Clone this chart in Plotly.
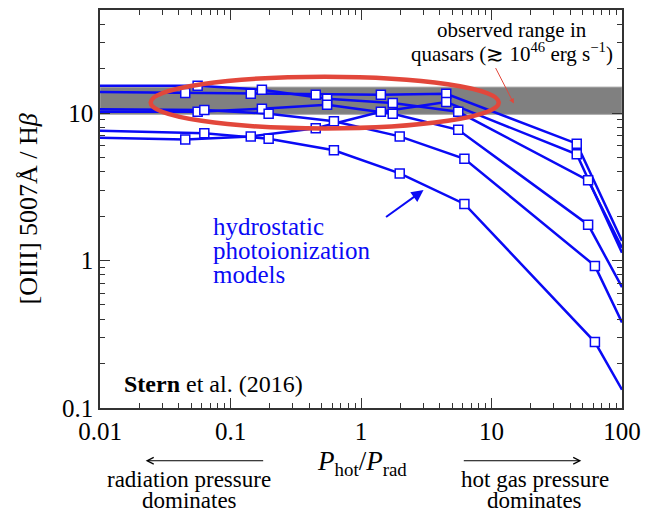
import plotly.graph_objects as go

# ---- data ----
# P_hot/P_rad grid for the three model families (left/right ends are the axis edges)
x_a = [0.01, 0.045, 0.143, 0.45, 1.42, 4.5, 45, 100]
x_b = [0.01, 0.056, 0.174, 0.55, 1.75, 5.56, 55, 100]
x_c = [0.01, 0.063, 0.196, 0.62, 1.98, 6.2, 62, 100]

# [OIII]/Hbeta for each model track
y_a1 = [13.9, 13.7, 13.5, 13.3, 13.3, 13.5, 6.2, 1.36]
y_a2 = [6.8, 6.63, 6.95, 7.9, 10.2, 11.9, 5.25, 1.13]
y_b1 = [15.3, 15.3, 14.4, 12.5, 11.7, 10.2, 3.5, 1.22]
y_b2 = [10.2, 10.2, 10.7, 11.4, 9.9, 7.7, 1.75, 0.66]
y_c1 = [10.6, 10.5, 9.9, 8.8, 6.95, 4.9, 0.92, 0.38]
y_c2 = [7.6, 7.3, 6.7, 5.6, 3.9, 2.42, 0.28, 0.133]

# observed range in luminous quasars
obs_x = [0.01, 100]
obs_low = 9.8
obs_high = 15.0

x_tickvals = [0.01, 0.1, 1, 10, 100]
x_ticktext = ["0.01", "0.1", "1", "10", "100"]
y_tickvals = [0.1, 1, 10]
y_ticktext = ["0.1", "1", "10"]

tracks = [(x_a, y_a1), (x_a, y_a2), (x_b, y_b1), (x_b, y_b2), (x_c, y_c1), (x_c, y_c2)]

BLUE = "#0a0af5"
SERIF = "Liberation Serif"

fig = go.Figure()

# gray band of the observed range
fig.add_trace(go.Scatter(
    x=[obs_x[0], obs_x[1], obs_x[1], obs_x[0], obs_x[0]],
    y=[obs_low, obs_low, obs_high, obs_high, obs_low],
    mode="lines", fill="toself", fillcolor="#808080",
    line=dict(color="#a8a8a8", width=1), hoverinfo="skip", showlegend=False))

for xs, ys in tracks:
    fig.add_trace(go.Scatter(x=xs, y=ys, mode="lines",
                             line=dict(color=BLUE, width=2.5), showlegend=False))
for xs, ys in tracks:
    fig.add_trace(go.Scatter(x=xs[1:-1], y=ys[1:-1], mode="markers",
                             marker=dict(symbol="square", size=9, color="white",
                                         line=dict(color=BLUE, width=1.5)),
                             showlegend=False))

minor_x = [m * 10 ** k for k in range(-2, 2) for m in range(2, 10)]
minor_y = [m * 10 ** k for k in range(-1, 2) for m in range(2, 10)]

axis_common = dict(showgrid=False, zeroline=False, showline=True, linecolor="#333333",
                   linewidth=1.5, mirror="allticks", ticks="inside", ticklen=10,
                   tickcolor="#333333", tickwidth=1.2,
                   tickfont=dict(family=SERIF, size=25, color="black"))

fig.update_xaxes(type="log", range=[-2, 2], tickvals=x_tickvals, ticktext=x_ticktext,
                 minor=dict(tickvals=minor_x, ticks="inside", ticklen=5,
                            tickcolor="#333333", tickwidth=1),
                 **axis_common)
fig.update_yaxes(type="log", range=[-1, 1.699], tickvals=y_tickvals, ticktext=y_ticktext,
                 minor=dict(tickvals=minor_y, ticks="inside", ticklen=5,
                            tickcolor="#333333", tickwidth=1),
                 **axis_common)

# red ellipse highlighting the overlap
fig.add_shape(type="circle", xref="paper", yref="paper",
              x0=0.097, x1=0.764, y0=0.7025, y1=0.8325,
              line=dict(color="#e2473b", width=4.5), layer="above")


def label(x, y, text, size, color="black", xanchor="center", **kw):
    return dict(xref="paper", yref="paper", x=x, y=y, showarrow=False, text=text,
                font=dict(family=SERIF, size=size, color=color),
                xanchor=xanchor, yanchor="middle", **kw)


ann = [
    label(0.789, 0.95, "observed range in", 21),
    label(0.789, 0.893, "quasars (≳ 10<sup>46</sup> erg s<sup>−1</sup>)", 21),
    dict(xref="paper", yref="paper", x=0.7928, y=0.765, text="", showarrow=True,
         ax=-19, ay=-37, arrowcolor="#e2473b", arrowwidth=1, arrowhead=2, arrowsize=1),
    label(0.213, 0.455, "hydrostatic", 25, BLUE, "left"),
    label(0.213, 0.395, "photoionization", 25, BLUE, "left"),
    label(0.213, 0.335, "models", 25, BLUE, "left"),
    dict(xref="paper", yref="paper", x=0.6198, y=0.5475, text="", showarrow=True,
         ax=-39, ay=28, arrowcolor=BLUE, arrowwidth=2, arrowhead=2, arrowsize=1.2),
    label(0.042, 0.06, "<b>Stern</b> et al. (2016)", 24, xanchor="left"),
    label(-0.137, 0.5, "[OIII] 5007Å / H<i>β</i>", 26, textangle=-90),
    label(0.502, -0.1375, "<i>P</i><sub>hot</sub>/<i>P</i><sub>rad</sub>", 27),
    dict(xref="paper", yref="paper", x=0.0875, y=-0.1325, text="", showarrow=True,
         ax=119, ay=0, arrowcolor="black", arrowwidth=1, arrowhead=5, arrowsize=1.3),
    dict(xref="paper", yref="paper", x=0.922, y=-0.1325, text="", showarrow=True,
         ax=-119, ay=0, arrowcolor="black", arrowwidth=1, arrowhead=5, arrowsize=1.3),
    label(0.171, -0.18, "radiation pressure", 23),
    label(0.171, -0.233, "dominates", 23),
    label(0.833, -0.18, "hot gas pressure", 23),
    label(0.833, -0.233, "dominates", 23),
]

fig.update_layout(width=649, height=510, margin=dict(l=100, r=23, t=8, b=102),
                  plot_bgcolor="white", paper_bgcolor="white",
                  showlegend=False, annotations=ann)

fig.write_html("out.html")
